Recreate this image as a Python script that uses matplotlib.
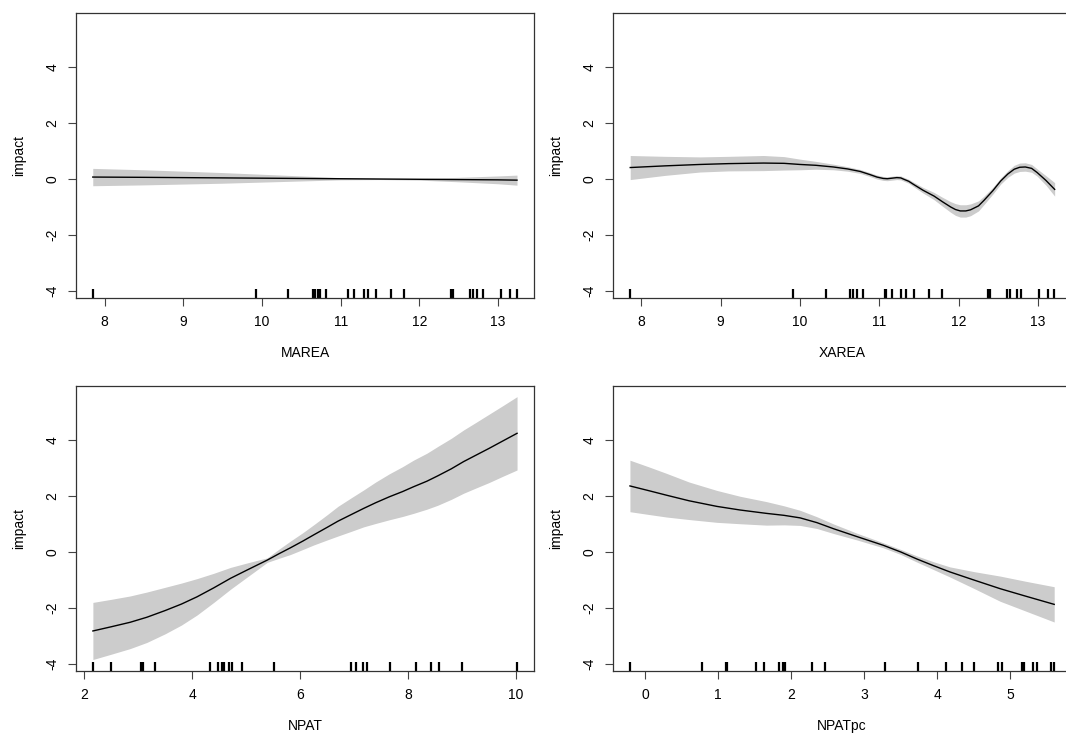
import matplotlib
matplotlib.use("Agg")
import matplotlib.pyplot as plt
import matplotlib.transforms as mtransforms
import numpy as np

plt.rcParams['font.family'] = ['Liberation Sans', 'DejaVu Sans']
plt.rcParams['axes.unicode_minus'] = False

# ---- data ----
marea_x = [7.85, 8.5, 9.0, 9.5, 10.0, 10.5, 11.0, 11.5, 12.0, 12.5, 13.0, 13.24]
marea_fit = [0.07, 0.06, 0.05, 0.04, 0.03, 0.02, 0.01, 0.0, -0.01, -0.02, -0.03, -0.04]
marea_se = [0.31, 0.27, 0.23, 0.19, 0.14, 0.09, 0.04, 0.02, 0.03, 0.08, 0.14, 0.18]
marea_rug = [7.853, 9.924, 10.334, 10.648, 10.677, 10.707, 10.733, 10.813, 11.093,
             11.169, 11.291, 11.342, 11.452, 11.639, 11.804, 12.401, 12.427, 12.638,
             12.681, 12.732, 12.808, 13.037, 13.155, 13.240]

xarea_x = [7.86, 8.3, 8.74, 9.1, 9.54, 9.8, 10.0, 10.2, 10.42, 10.6, 10.76, 10.88,
           10.97, 11.05, 11.10, 11.16, 11.22, 11.27, 11.31, 11.37, 11.43, 11.55, 11.69,
           11.80, 11.90, 11.96, 12.02, 12.09, 12.15, 12.25, 12.32, 12.43, 12.53, 12.62,
           12.70, 12.77, 12.84, 12.92, 12.99, 13.10, 13.21]
xarea_fit = [0.41, 0.47, 0.52, 0.55, 0.57, 0.56, 0.52, 0.49, 0.43, 0.36, 0.27, 0.16,
             0.07, 0.02, 0.01, 0.03, 0.05, 0.04, -0.01, -0.08, -0.19, -0.40, -0.61,
             -0.82, -1.00, -1.09, -1.14, -1.14, -1.10, -0.96, -0.76, -0.42, -0.07, 0.18,
             0.35, 0.42, 0.43, 0.38, 0.23, -0.05, -0.37]
xarea_se = [0.43, 0.34, 0.27, 0.26, 0.27, 0.24, 0.19, 0.14, 0.10, 0.08, 0.07, 0.07,
            0.07, 0.07, 0.07, 0.07, 0.07, 0.07, 0.07, 0.07, 0.08, 0.10, 0.13, 0.16,
            0.19, 0.21, 0.22, 0.22, 0.21, 0.18, 0.15, 0.12, 0.11, 0.12, 0.14, 0.15,
            0.15, 0.14, 0.13, 0.17, 0.24]
xarea_rug = [7.857, 9.911, 10.332, 10.626, 10.664, 10.715, 10.799, 11.068, 11.090,
             11.161, 11.279, 11.330, 11.434, 11.620, 11.793, 12.369, 12.394, 12.614,
             12.647, 12.731, 12.790, 13.018, 13.131, 13.202]

npat_x = [2.16, 2.5, 2.85, 3.16, 3.5, 3.8, 4.09, 4.4, 4.71, 5.0, 5.2, 5.39, 5.6, 5.82,
          6.05, 6.25, 6.5, 6.7, 6.95, 7.18, 7.4, 7.65, 7.9, 8.10, 8.35, 8.55, 8.8,
          9.03, 9.25, 9.5, 9.75, 10.02]
npat_fit = [-2.82, -2.67, -2.51, -2.33, -2.09, -1.86, -1.60, -1.28, -0.94, -0.66,
            -0.47, -0.29, -0.07, 0.15, 0.39, 0.61, 0.88, 1.10, 1.34, 1.56, 1.76, 1.97,
            2.16, 2.33, 2.53, 2.72, 2.97, 3.23, 3.45, 3.70, 3.96, 4.24]
npat_se = [1.02, 0.98, 0.94, 0.90, 0.83, 0.75, 0.65, 0.52, 0.39, 0.26, 0.17, 0.08,
           0.16, 0.24, 0.30, 0.36, 0.45, 0.53, 0.60, 0.66, 0.74, 0.82, 0.89, 0.95,
           1.00, 1.05, 1.09, 1.13, 1.17, 1.22, 1.26, 1.31]
npat_rug = [2.161, 2.500, 3.050, 3.087, 3.310, 4.336, 4.484, 4.546, 4.583, 4.675,
            4.743, 4.929, 5.522, 6.943, 7.042, 7.166, 7.246, 7.672, 8.148, 8.432,
            8.574, 9.000, 10.020]

npatpc_x = [-0.21, 0.05, 0.29, 0.6, 0.98, 1.3, 1.66, 1.9, 2.12, 2.35, 2.58, 2.9, 3.26,
            3.5, 3.72, 3.95, 4.17, 4.5, 4.86, 5.2, 5.60]
npatpc_fit = [2.36, 2.19, 2.03, 1.83, 1.63, 1.50, 1.38, 1.31, 1.22, 1.05, 0.83, 0.55,
              0.24, 0.00, -0.25, -0.49, -0.71, -1.00, -1.31, -1.57, -1.87]
npatpc_se = [0.92, 0.85, 0.78, 0.67, 0.57, 0.49, 0.42, 0.34, 0.27, 0.21, 0.17, 0.12,
             0.09, 0.09, 0.11, 0.14, 0.18, 0.30, 0.45, 0.53, 0.63]
npatpc_rug = [-0.210, 0.772, 1.105, 1.123, 1.516, 1.626, 1.831, 1.891, 1.914, 2.283,
              2.462, 3.284, 3.731, 4.115, 4.338, 4.498, 4.827, 4.882, 5.156, 5.193,
              5.311, 5.370, 5.553, 5.598]

y_ticks = [-4, -2, 0, 2, 4]
y_tick_labels = ["-4", "-2", "0", "2", "4"]
ylim = (-4.25, 5.93)

panels = [
    dict(x=marea_x, fit=marea_fit, se=marea_se, rug=marea_rug, xlabel="MAREA",
         xticks=[8, 9, 10, 11, 12, 13], xlim=(7.637, 13.456),
         pos=[76, 13]),
    dict(x=xarea_x, fit=xarea_fit, se=xarea_se, rug=xarea_rug, xlabel="XAREA",
         xticks=[8, 9, 10, 11, 12, 13], xlim=(7.643, 13.416),
         pos=[613, 13]),
    dict(x=npat_x, fit=npat_fit, se=npat_se, rug=npat_rug, xlabel="NPAT",
         xticks=[2, 4, 6, 8, 10], xlim=(1.847, 10.334),
         pos=[76, 386]),
    dict(x=npatpc_x, fit=npatpc_fit, se=npatpc_se, rug=npatpc_rug, xlabel="NPATpc",
         xticks=[0, 1, 2, 3, 4, 5], xlim=(-0.442, 5.83),
         pos=[613, 386]),
]

W, H = 1066, 736
fig = plt.figure(figsize=(W / 100, H / 100), dpi=100)
pw, ph = 458, 285

for p in panels:
    left, top = p["pos"]
    ax = fig.add_axes([left / W, 1 - (top + ph) / H, pw / W, ph / H])
    x = np.array(p["x"])
    fit = np.array(p["fit"])
    se = np.array(p["se"])
    ax.fill_between(x, fit - se, fit + se, color="#cccccc", linewidth=0)
    ax.plot(x, fit, color="black", linewidth=1.0)
    trans = mtransforms.blended_transform_factory(ax.transData, ax.transAxes)
    ax.vlines(p["rug"], 0, 0.03, transform=trans, color="black", linewidth=1.6)
    ax.set_xlim(*p["xlim"])
    ax.set_ylim(*ylim)
    ax.set_xticks(p["xticks"])
    ax.set_xticklabels([str(t) for t in p["xticks"]])
    ax.set_yticks(y_ticks)
    ax.set_yticklabels(y_tick_labels, rotation=90, va="center")
    ax.tick_params(direction="out", length=6, width=0.8, pad=6, labelsize=10,
                   color="#444444")
    for s in ax.spines.values():
        s.set_linewidth(0.9)
        s.set_color("#333333")
    ax.set_xlabel(p["xlabel"], fontsize=10, labelpad=12.5)
    ax.set_ylabel("impact", fontsize=10, labelpad=14)

fig.savefig("out.png", dpi=100)
